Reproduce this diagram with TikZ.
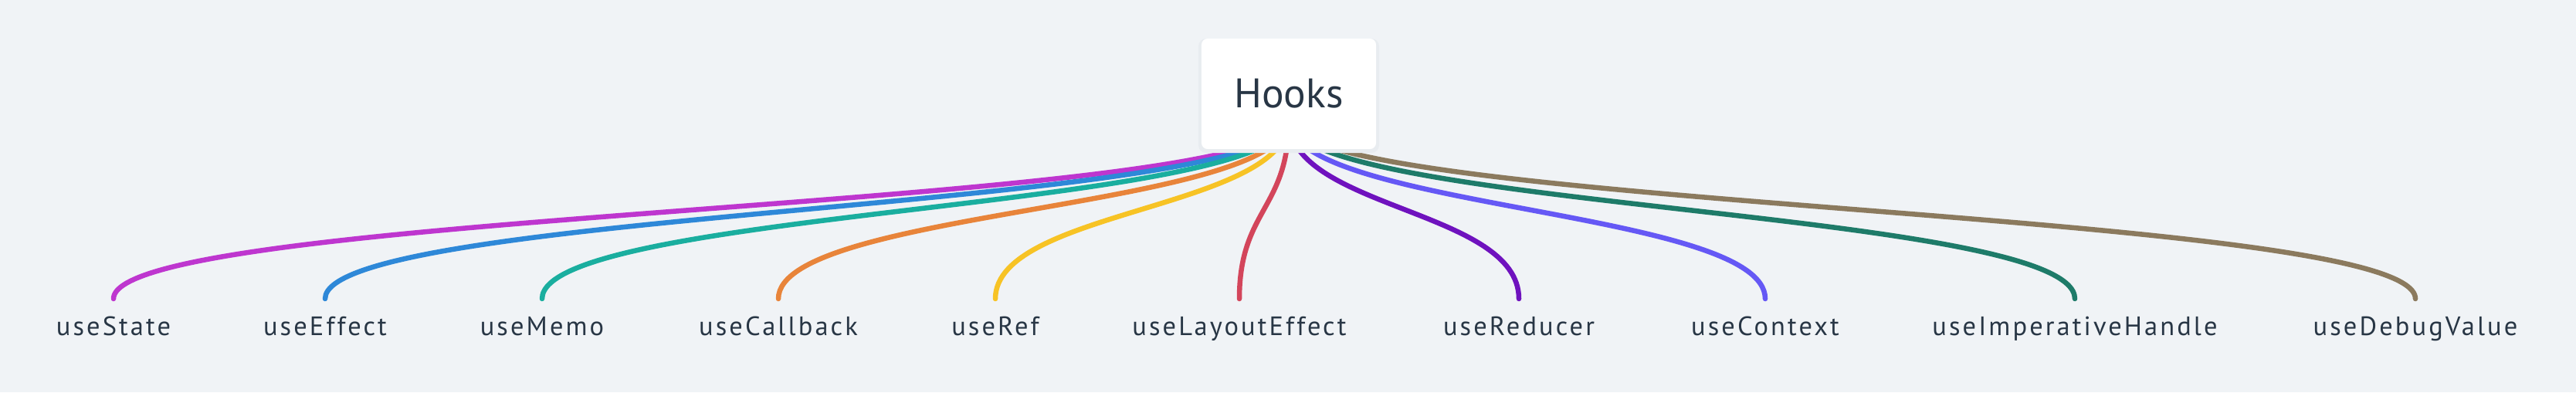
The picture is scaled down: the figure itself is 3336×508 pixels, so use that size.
\documentclass[tikz,border=0pt]{standalone}
\usepackage{fontspec}
\setmainfont{PT Sans}
\newfontfamily\hookfont[LetterSpace=9]{PT Sans}
\usetikzlibrary{positioning}

\definecolor{bgcol}{HTML}{F0F3F6}
\definecolor{shadowcol}{HTML}{E8ECF0}
\definecolor{ink}{HTML}{283645}
\definecolor{cState}{HTML}{BE36CF}
\definecolor{cEffect}{HTML}{2E88D8}
\definecolor{cMemo}{HTML}{1AAE9F}
\definecolor{cCallback}{HTML}{E8843A}
\definecolor{cRef}{HTML}{F7C325}
\definecolor{cLayout}{HTML}{D3455B}
\definecolor{cReducer}{HTML}{6F12BE}
\definecolor{cContext}{HTML}{6558F5}
\definecolor{cHandle}{HTML}{1E7B69}
\definecolor{cDebug}{HTML}{8B7A5E}

\begin{document}
\begin{tikzpicture}[x=0.01cm, y=-0.01cm,
    hook/.style={font=\hookfont\fontsize{9.8}{12}\selectfont, text=ink, inner sep=0pt, anchor=base},
    link/.style={line width=1.85pt, line cap=round},
    rootbox/.style={fill=white, rounded corners=0.08cm, minimum width=2.26cm,
        minimum height=1.43cm, font=\fontsize{15.2}{18}\selectfont, text=ink}]

    % background
    \fill[bgcol] (0,0) rectangle (3336,508);
    \useasboundingbox (0,0) rectangle (3336,508);

    \coordinate (root) at (1669,155);

    % hooks and their links
    \foreach \x/\hk/\col in {147/useState/cState, 421/useEffect/cEffect,
            702/useMemo/cMemo, 1008/useCallback/cCallback, 1289/useRef/cRef,
            1605/useLayoutEffect/cLayout, 1967/useReducer/cReducer,
            2286/useContext/cContext, 2687/useImperativeHandle/cHandle,
            3128/useDebugValue/cDebug}{
        \coordinate (\hk-in) at (\x,387);
        \node[hook] (\hk) at (\x,434) {\hk};
        \draw[link, \col] (root) .. controls +(0,116) and +(0,-116) .. (\hk-in);
    }

    % root box
    \fill[shadowcol, rounded corners=0.1cm] (1552,50) rectangle (1786,198);
    \node[rootbox] (hooks) at (1669,121.5) {Hooks};
\end{tikzpicture}
\end{document}
